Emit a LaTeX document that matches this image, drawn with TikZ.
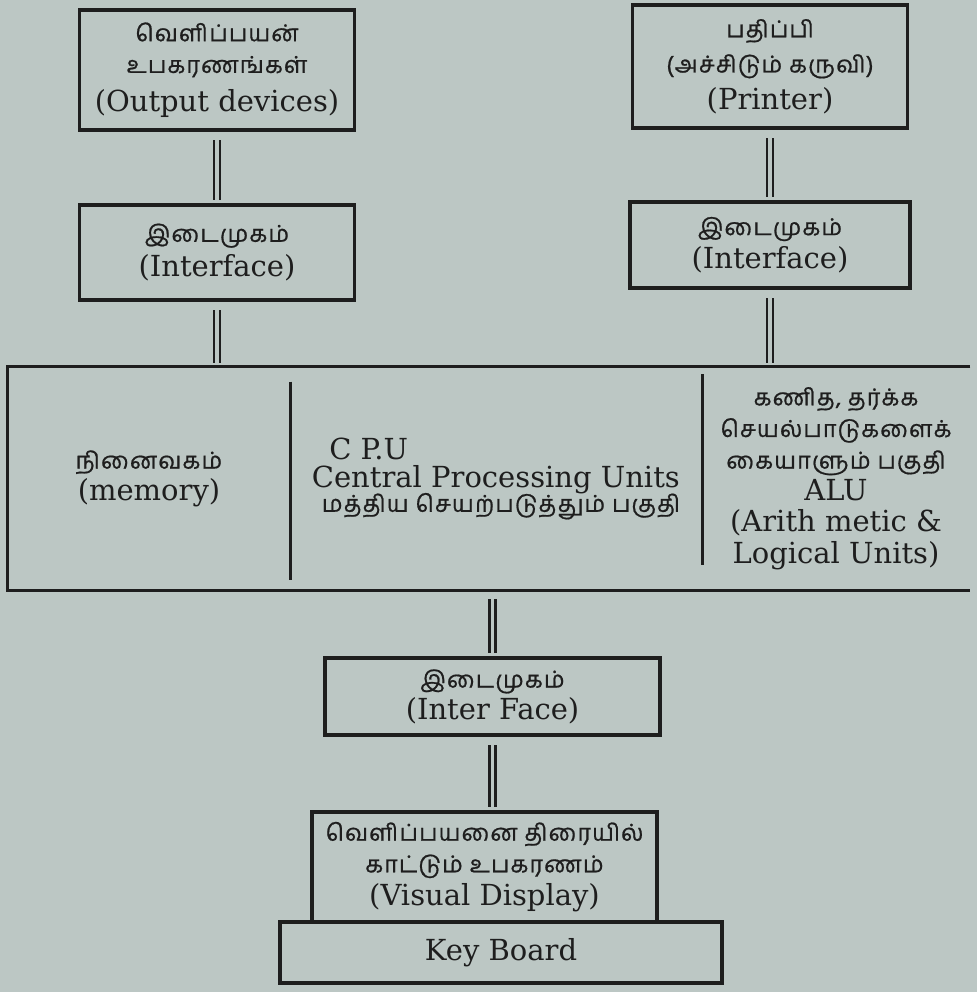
\documentclass[tikz,border=0pt]{standalone}
\usepackage{fontspec}
\usepackage{xcolor}
\setmainfont{DejaVu Serif}
\newfontfamily\tamilfont[Script=Tamil,LetterSpace=5,FakeBold=0.8]{Hind Madurai}
\usetikzlibrary{positioning,calc}
\definecolor{paper}{HTML}{BCC7C4}
\definecolor{ink}{HTML}{1E1E1E}
\newcommand{\ta}[1]{{\tamilfont\fontsize{13.2}{18}\selectfont #1}}

\begin{document}
\begin{tikzpicture}[
  font=\fontsize{16.5}{18}\selectfont,
  box/.style={draw=ink,line width=1.8pt,align=center,inner sep=0pt,text=ink},
  cell/.style={align=center,inner sep=0pt,minimum height=4.46cm,text=ink},
  link/.style={draw=ink,line width=1.3pt,double=paper,double distance=2pt,shorten <=5pt,shorten >=2pt},
  frame/.style={draw=ink,line width=1.8pt}
]
% page
\fill[paper] (0,0) rectangle (19.54,-19.84);

% output side
\node[box,minimum width=5.5cm,minimum height=2.4cm] (outdev) at (4.34,-1.40)
  {\ta{வெளிப்பயன்}\\ \ta{உபகரணங்கள்}\\[4pt] (Output devices)};
\node[box,minimum width=5.5cm,minimum height=1.9cm] (ifL) at (4.34,-5.05)
  {\ta{இடைமுகம்}\\[2pt] (Interface)};

% printer side
\node[box,minimum width=5.5cm,minimum height=2.46cm] (printer) at (15.40,-1.33)
  {\ta{பதிப்பி}\\[2pt] \ta{(அச்சிடும் கருவி)}\\[3pt] (Printer)};
\node[box,minimum width=5.6cm,minimum height=1.72cm] (ifR) at (15.40,-4.90)
  {\ta{இடைமுகம்}\\[1pt] (Interface)};

% central unit
\node[cell,minimum width=5.64cm] (mem) at (2.98,-9.57)
  {\ta{நினைவகம்}\\ (memory)};
\node[cell,minimum width=8.24cm,align=left] (cpu) at (9.92,-9.57)
  {\hspace*{0.35cm}C P.U\\[-2pt] Central Processing Units\\[-4pt] \hspace*{0.2cm}\ta{மத்திய செயற்படுத்தும் பகுதி}};
\node[cell,minimum width=5.36cm] (alu) at (16.72,-9.57)
  {\ta{கணித, தர்க்க}\\ \ta{செயல்பாடுகளைக்}\\ \ta{கையாளும் பகுதி}\\ ALU\\ (Arith metic \&\\ Logical Units)};
\draw[frame] (alu.north east) -- (mem.north west) -- (mem.south west) -- (alu.south east);
\draw[frame,line width=1.4pt,shorten <=0.3cm,shorten >=0.2cm] (mem.north east) -- (mem.south east);
\draw[frame,line width=1.4pt,shorten <=0.15cm,shorten >=0.5cm] (cpu.north east) -- (cpu.south east);

% input side
\node[box,minimum width=6.7cm,minimum height=1.54cm] (ifB) at (9.85,-13.93)
  {\ta{இடைமுகம்}\\ (Inter Face)};
\node[box,minimum width=6.9cm,minimum height=2.2cm] (vis) at (9.69,-17.34)
  {\ta{வெளிப்பயனை திரையில்}\\ \ta{காட்டும் உபகரணம்}\\[1pt] (Visual Display)};
\node[box,minimum width=8.84cm,minimum height=1.22cm] (kb) at (10.02,-19.05) {Key Board};

% links
\draw[link] (outdev) -- (ifL);
\draw[link] (ifL.south) -- (ifL.south |- mem.north);
\draw[link] (printer) -- (ifR);
\draw[link] (ifR.south) -- (ifR.south |- alu.north);
\draw[link] (ifB.north |- cpu.south) -- (ifB.north);
\draw[link] (ifB.south) -- (ifB.south |- vis.north);
\end{tikzpicture}
\end{document}
